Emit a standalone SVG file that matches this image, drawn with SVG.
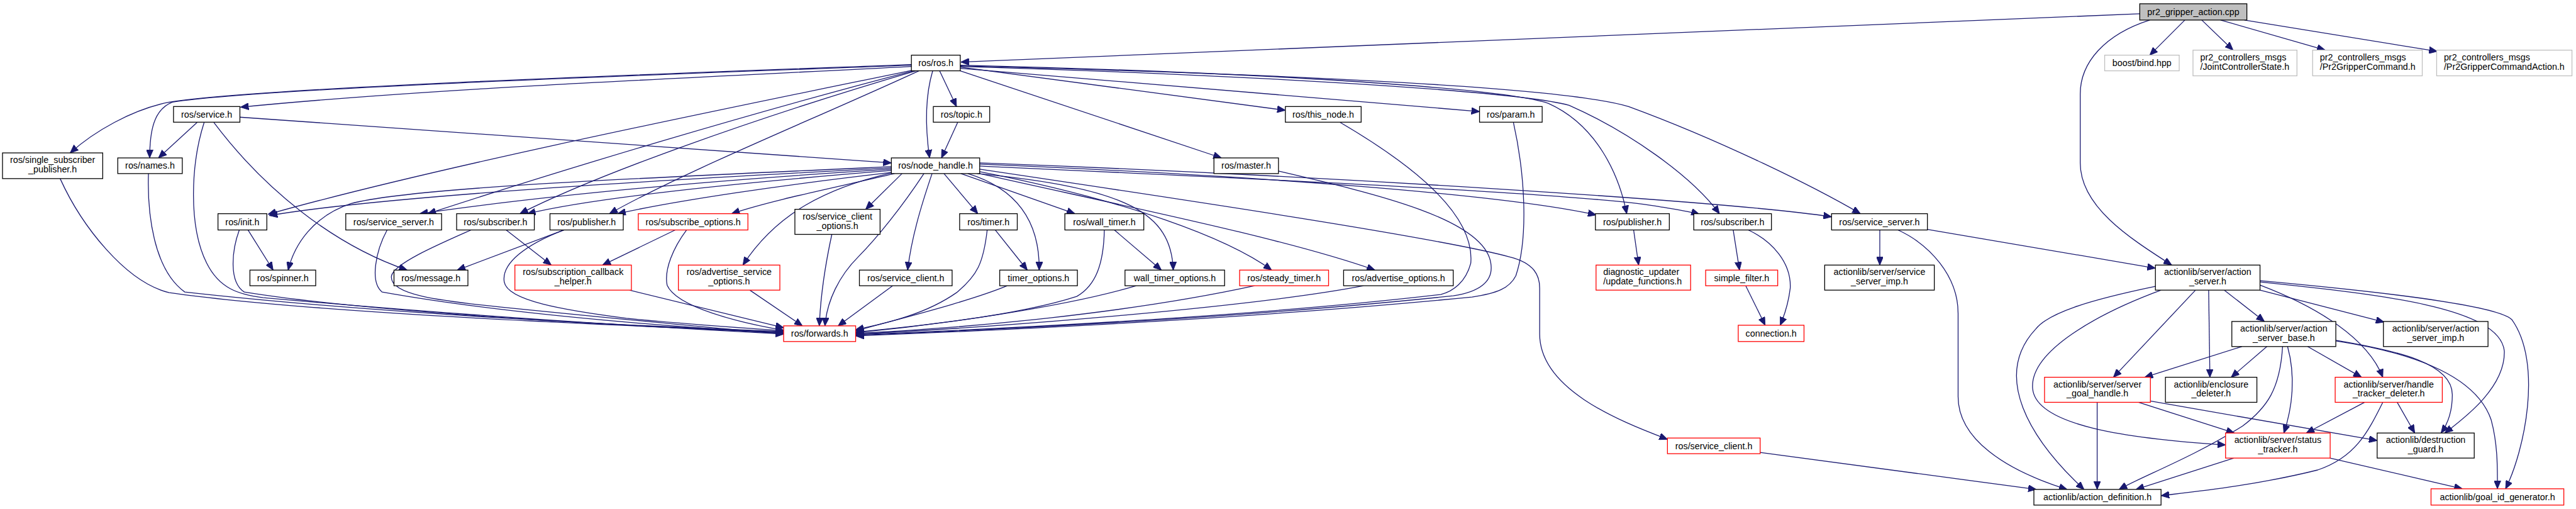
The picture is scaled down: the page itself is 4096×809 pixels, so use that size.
<svg xmlns="http://www.w3.org/2000/svg" width="4096" height="809" viewBox="0 0 4096 809">
<style>
.n rect{fill:#fff;stroke:#000;stroke-width:1.3}
.n.r rect{stroke:#f00}
.n.g rect{stroke:#bfbfbf}
.n.root rect{fill:#bfbfbf}
text{font-family:"Liberation Sans",Arial,Helvetica,sans-serif;font-size:14.4px;text-anchor:middle;fill:#000}
text.l{text-anchor:start}
#edges path{fill:none;stroke:#191970;stroke-width:1.3;marker-end:url(#a)}
</style>
<defs>
<marker id="a" viewBox="0 0 13 11" refX="13" refY="5.5" markerWidth="13" markerHeight="11" orient="auto" markerUnits="userSpaceOnUse">
<path d="M0,0 L13,5.5 L0,11 z" fill="#191970" stroke="#191970" stroke-width="1"/>
</marker>
</defs>
<rect width="4096" height="809" fill="#fff"/>
<g transform="scale(0.996)">
<g id="edges">
<!-- root -->
<path d="M3416,22 L1534,99"/>
<path d="M3488,32 L3432,88"/>
<path d="M3515,32 L3565,80"/>
<path d="M3545,32 L3712,80"/>
<path d="M3583,32 L3891,82"/>
<path d="M3432,32 C3360,55 3321,100 3321,150 L3321,260 C3321,330 3400,380 3467,423"/>
<!-- ros.h -->
<path d="M1455,103 C1000,120 420,140 270,163 C210,175 150,210 112,244"/>
<path d="M1455,104 C1000,121 420,141 275,163 C245,175 239,210 239,252"/>
<path d="M1455,106 C1100,125 700,140 384,171"/>
<path d="M1489,113 C1475,160 1478,210 1484,252"/>
<path d="M1500,113 L1527,170"/>
<path d="M1457,112 C1200,165 700,265 428,342"/>
<path d="M1458,113 C1200,180 900,270 683,341"/>
<path d="M1462,113 C1200,190 950,280 830,341"/>
<path d="M1467,113 C1300,190 1100,270 973,341"/>
<path d="M1533,113 L1950,252"/>
<path d="M1533,107 L2052,176"/>
<path d="M1533,109 L2362,178"/>
<path d="M1533,104 C2000,115 2400,140 2472,165 C2550,200 2585,280 2597,341"/>
<path d="M1533,106 C2000,120 2420,145 2505,168 C2600,210 2700,280 2745,341"/>
<path d="M1533,105 C2100,120 2500,140 2600,170 C2750,225 2900,300 2970,341"/>
<!-- topic -->
<path d="M1529,195 L1503,252"/>
<!-- service.h -->
<path d="M315,195 L253,252"/>
<path d="M383,187 L1423,260"/>
<path d="M326,195 C305,260 300,360 330,420 C350,460 380,470 420,475 C700,500 1000,520 1251,533"/>
<path d="M341,195 C420,300 530,390 650,431"/>
<!-- node_handle -->
<path d="M1423,266 C1000,285 650,300 560,325 C500,345 470,390 460,431"/>
<path d="M1423,268 C1000,290 600,315 430,344"/>
<path d="M1423,270 C1100,290 850,315 670,341"/>
<path d="M1423,272 C1200,290 950,315 842,341"/>
<path d="M1425,275 C1250,295 1080,320 986,341"/>
<path d="M1428,277 C1330,300 1230,320 1168,341"/>
<path d="M1440,277 L1382,334"/>
<path d="M1423,276 C1320,300 1240,340 1186,423"/>
<path d="M1475,277 C1440,330 1400,380 1370,410 C1340,440 1320,480 1317,520"/>
<path d="M1488,277 C1470,330 1455,380 1449,431"/>
<path d="M1507,277 L1561,341"/>
<path d="M1545,277 C1620,300 1660,350 1659,431"/>
<path d="M1534,277 L1716,341"/>
<path d="M1560,277 C1800,300 1870,340 1873,431"/>
<path d="M1564,274 C1800,320 1960,380 2030,431"/>
<path d="M1564,277 C1800,330 2050,380 2195,431"/>
<path d="M1564,262 C2000,280 2400,310 2548,343"/>
<path d="M1564,265 C2000,285 2550,310 2650,330 C2680,335 2700,338 2713,342"/>
<path d="M1564,260 C2100,280 2750,320 2924,346"/>
<path d="M1564,270 C1900,320 2300,380 2410,410 C2450,420 2458,440 2458,460 L2458,533 C2458,620 2580,670 2662,701"/>
<!-- into forwards from left -->
<path d="M96,285 C130,360 200,450 270,467 C500,500 1000,520 1251,530"/>
<path d="M237,277 C235,340 245,430 295,466 C600,500 1000,520 1251,529"/>
<path d="M382,367 C370,400 365,450 390,466 C600,500 1000,520 1251,531"/>
<path d="M396,367 L436,431"/>
<path d="M618,367 C600,400 590,450 610,466 C800,500 1050,520 1251,532"/>
<path d="M752,367 C700,390 630,420 625,440 C620,470 700,480 800,490 C1000,510 1150,525 1251,533"/>
<path d="M808,367 L880,423"/>
<path d="M900,367 L730,431"/>
<path d="M900,367 C840,390 800,420 805,450 C810,480 900,495 1000,508 C1100,518 1200,524 1251,528"/>
<path d="M1078,367 L962,423"/>
<path d="M1096,367 C1075,395 1060,430 1065,455 C1080,490 1180,515 1251,527"/>
<path d="M1005,463 L1251,523"/>
<path d="M1197,463 L1281,520"/>
<path d="M1328,374 C1318,420 1310,470 1308,520"/>
<!-- into forwards from right -->
<path d="M1425,456 L1338,520"/>
<path d="M1589,367 L1640,431"/>
<path d="M1576,367 C1570,420 1560,440 1527,467 C1480,500 1420,515 1366,526"/>
<path d="M1608,456 C1550,480 1450,505 1366,528"/>
<path d="M1779,367 L1854,431"/>
<path d="M1763,367 C1762,420 1750,455 1719,473 C1620,505 1450,522 1366,530"/>
<path d="M1814,456 C1700,490 1500,518 1366,531"/>
<path d="M2003,456 C1800,500 1550,523 1366,532"/>
<path d="M2177,456 C2000,490 1600,522 1366,533"/>
<path d="M2139,195 C2250,260 2355,340 2348,420 C2340,450 2320,465 2300,470 C2000,505 1600,525 1366,534"/>
<path d="M2041,273 C2200,310 2370,350 2380,420 C2385,450 2360,466 2320,472 C2000,506 1600,526 1366,535"/>
<path d="M2416,195 C2435,280 2440,380 2420,440 C2410,460 2390,468 2350,474 C2000,508 1600,527 1366,536"/>
<!-- right-hand roscpp look-alikes -->
<path d="M2608,367 L2616,423"/>
<path d="M2767,367 L2777,431"/>
<path d="M2791,367 C2830,385 2860,420 2858,460 C2855,485 2848,505 2842,519"/>
<path d="M2787,456 L2818,519"/>
<path d="M3001,367 L3001,423"/>
<path d="M3030,367 C3080,390 3126,440 3126,500 L3126,633 C3126,700 3200,750 3300,781"/>
<path d="M3077,366 L3441,428"/>
<path d="M2810,722 L3251,781"/>
<!-- action_server -->
<path d="M3551,463 L3615,513"/>
<path d="M3608,463 L3806,514"/>
<path d="M3526,463 L3528,602"/>
<path d="M3505,463 L3374,602"/>
<path d="M3608,455 C3700,490 3780,540 3804,602"/>
<path d="M3608,450 C3800,470 3990,490 3998,560 C4000,620 3930,670 3903,691"/>
<path d="M3608,448 C3850,470 3990,490 4010,510 C4060,580 4030,720 4000,780"/>
<path d="M3450,463 C3350,500 3240,560 3245,620 C3250,680 3400,700 3553,710"/>
<path d="M3441,457 C3330,480 3270,500 3250,525 C3180,600 3240,700 3327,781"/>
<!-- action_server_base -->
<path d="M3579,553 L3424,602"/>
<path d="M3619,553 L3562,602"/>
<path d="M3684,553 L3770,602"/>
<path d="M3652,553 C3665,600 3660,650 3646,691"/>
<path d="M3644,553 C3640,620 3620,650 3580,680 C3500,730 3420,760 3383,781"/>
<path d="M3729,543 C3830,560 3915,580 3915,630 C3915,660 3905,680 3897,691"/>
<path d="M3729,544 C3900,570 3960,620 3977,670 C3988,710 3987,750 3987,780"/>
<!-- server_goal_handle -->
<path d="M3348,642 L3348,781"/>
<path d="M3414,642 L3567,691"/>
<path d="M3433,640 L3795,703"/>
<!-- handle_tracker_deleter -->
<path d="M3775,642 L3682,691"/>
<path d="M3827,642 L3855,691"/>
<path d="M3804,642 C3780,690 3760,730 3700,750 C3600,775 3500,785 3450,791"/>
<!-- status_tracker -->
<path d="M3566,731 L3410,781"/>
<path d="M3720,731 L3931,780"/>
</g>

<g id="n_root" class="n root"><rect x="3416" y="6" width="171" height="26"/><text x="3501.5" y="24">pr2_gripper_action.cpp</text></g>
<g id="n_ros" class="n"><rect x="1455" y="88" width="78" height="25"/><text x="1494" y="105.5">ros/ros.h</text></g>
<g id="n_bind" class="n g"><rect x="3360" y="88" width="119" height="25"/><text x="3419.5" y="105.5">boost/bind.hpp</text></g>
<g id="n_jcs" class="n g"><rect x="3501" y="80" width="166" height="41"/><text class="l" x="3512.5" y="96">pr2_controllers_msgs</text><text class="l" x="3512.5" y="111">/JointControllerState.h</text></g>
<g id="n_p2gc" class="n g"><rect x="3692" y="80" width="175" height="41"/><text class="l" x="3703.5" y="96">pr2_controllers_msgs</text><text class="l" x="3703.5" y="111">/Pr2GripperCommand.h</text></g>
<g id="n_p2gca" class="n g"><rect x="3890" y="80" width="216" height="41"/><text class="l" x="3901.5" y="96">pr2_controllers_msgs</text><text class="l" x="3901.5" y="111">/Pr2GripperCommandAction.h</text></g>
<g id="n_service" class="n"><rect x="277" y="170" width="106" height="25"/><text x="330" y="187.5">ros/service.h</text></g>
<g id="n_topic" class="n"><rect x="1490" y="170" width="90" height="25"/><text x="1535" y="187.5">ros/topic.h</text></g>
<g id="n_this_node" class="n"><rect x="2052" y="170" width="121" height="25"/><text x="2112.5" y="187.5">ros/this_node.h</text></g>
<g id="n_param" class="n"><rect x="2362" y="170" width="100" height="25"/><text x="2412" y="187.5">ros/param.h</text></g>
<g id="n_ssp" class="n"><rect x="4" y="244" width="160" height="41"/><text x="84" y="260">ros/single_subscriber</text><text x="84" y="275">_publisher.h</text></g>
<g id="n_names" class="n"><rect x="188" y="252" width="103" height="25"/><text x="239.5" y="269.5">ros/names.h</text></g>
<g id="n_node_handle" class="n"><rect x="1423" y="252" width="141" height="25"/><text x="1493.5" y="269.5">ros/node_handle.h</text></g>
<g id="n_master" class="n"><rect x="1938" y="252" width="103" height="25"/><text x="1989.5" y="269.5">ros/master.h</text></g>
<g id="n_init" class="n"><rect x="348" y="341" width="78" height="26"/><text x="387" y="359">ros/init.h</text></g>
<g id="n_ssrv_l" class="n"><rect x="552" y="341" width="153" height="26"/><text x="628.5" y="359">ros/service_server.h</text></g>
<g id="n_sub_l" class="n"><rect x="729" y="341" width="124" height="26"/><text x="791" y="359">ros/subscriber.h</text></g>
<g id="n_pub_l" class="n"><rect x="878" y="341" width="117" height="26"/><text x="936.5" y="359">ros/publisher.h</text></g>
<g id="n_subopt" class="n r"><rect x="1019" y="341" width="175" height="26"/><text x="1106.5" y="359">ros/subscribe_options.h</text></g>
<g id="n_sco" class="n"><rect x="1269" y="334" width="136" height="40"/><text x="1337" y="350">ros/service_client</text><text x="1337" y="365">_options.h</text></g>
<g id="n_timer" class="n"><rect x="1532" y="341" width="92" height="26"/><text x="1578" y="359">ros/timer.h</text></g>
<g id="n_wall_timer" class="n"><rect x="1700" y="341" width="126" height="26"/><text x="1763" y="359">ros/wall_timer.h</text></g>
<g id="n_pub_r" class="n"><rect x="2547" y="341" width="118" height="26"/><text x="2606" y="359">ros/publisher.h</text></g>
<g id="n_sub_r" class="n"><rect x="2704" y="341" width="124" height="26"/><text x="2766" y="359">ros/subscriber.h</text></g>
<g id="n_ssrv_r" class="n"><rect x="2924" y="341" width="153" height="26"/><text x="3000.5" y="359">ros/service_server.h</text></g>
<g id="n_action_server" class="n"><rect x="3441" y="423" width="167" height="40"/><text x="3524.5" y="439">actionlib/server/action</text><text x="3524.5" y="454">_server.h</text></g>
<g id="n_spinner" class="n"><rect x="399" y="431" width="105" height="25"/><text x="451.5" y="448.5">ros/spinner.h</text></g>
<g id="n_message" class="n"><rect x="629" y="431" width="118" height="25"/><text x="688" y="448.5">ros/message.h</text></g>
<g id="n_scbh" class="n r"><rect x="822" y="423" width="186" height="40"/><text x="915" y="439">ros/subscription_callback</text><text x="915" y="454">_helper.h</text></g>
<g id="n_aso" class="n r"><rect x="1083" y="423" width="162" height="40"/><text x="1164" y="439">ros/advertise_service</text><text x="1164" y="454">_options.h</text></g>
<g id="n_sclient_l" class="n"><rect x="1372" y="431" width="148" height="25"/><text x="1446" y="448.5">ros/service_client.h</text></g>
<g id="n_timer_opt" class="n"><rect x="1596" y="431" width="124" height="25"/><text x="1658" y="448.5">timer_options.h</text></g>
<g id="n_wt_opt" class="n"><rect x="1796" y="431" width="159" height="25"/><text x="1875.5" y="448.5">wall_timer_options.h</text></g>
<g id="n_steady" class="n r"><rect x="1979" y="431" width="142" height="25"/><text x="2050" y="448.5">ros/steady_timer.h</text></g>
<g id="n_adv_opt" class="n"><rect x="2145" y="431" width="175" height="25"/><text x="2232.5" y="448.5">ros/advertise_options.h</text></g>
<g id="n_diag" class="n r"><rect x="2548" y="423" width="151" height="40"/><text class="l" x="2559.5" y="439">diagnostic_updater</text><text class="l" x="2559.5" y="454">/update_functions.h</text></g>
<g id="n_simple_filter" class="n r"><rect x="2723" y="431" width="115" height="25"/><text x="2780.5" y="448.5">simple_filter.h</text></g>
<g id="n_ssi" class="n"><rect x="2913" y="423" width="175" height="40"/><text x="3000.5" y="439">actionlib/server/service</text><text x="3000.5" y="454">_server_imp.h</text></g>
<g id="n_forwards" class="n r"><rect x="1251" y="520" width="115" height="25"/><text x="1308.5" y="537.5">ros/forwards.h</text></g>
<g id="n_connection" class="n r"><rect x="2775" y="519" width="105" height="26"/><text x="2827.5" y="537">connection.h</text></g>
<g id="n_asb" class="n"><rect x="3563" y="513" width="166" height="40"/><text x="3646" y="529">actionlib/server/action</text><text x="3646" y="544">_server_base.h</text></g>
<g id="n_asi" class="n"><rect x="3805" y="513" width="167" height="40"/><text x="3888.5" y="529">actionlib/server/action</text><text x="3888.5" y="544">_server_imp.h</text></g>
<g id="n_sgh" class="n r"><rect x="3264" y="602" width="169" height="40"/><text x="3348.5" y="618">actionlib/server/server</text><text x="3348.5" y="633">_goal_handle.h</text></g>
<g id="n_encl" class="n"><rect x="3457" y="602" width="146" height="40"/><text x="3530" y="618">actionlib/enclosure</text><text x="3530" y="633">_deleter.h</text></g>
<g id="n_htd" class="n r"><rect x="3728" y="602" width="171" height="40"/><text x="3813.5" y="618">actionlib/server/handle</text><text x="3813.5" y="633">_tracker_deleter.h</text></g>
<g id="n_sclient_r" class="n r"><rect x="2662" y="699" width="148" height="25"/><text x="2736" y="716.5">ros/service_client.h</text></g>
<g id="n_st" class="n r"><rect x="3553" y="691" width="167" height="40"/><text x="3636.5" y="707">actionlib/server/status</text><text x="3636.5" y="722">_tracker.h</text></g>
<g id="n_dg" class="n"><rect x="3795" y="691" width="155" height="40"/><text x="3872.5" y="707">actionlib/destruction</text><text x="3872.5" y="722">_guard.h</text></g>
<g id="n_ad" class="n"><rect x="3247" y="781" width="203" height="25"/><text x="3348.5" y="798.5">actionlib/action_definition.h</text></g>
<g id="n_gig" class="n r"><rect x="3881" y="780" width="212" height="26"/><text x="3987" y="798">actionlib/goal_id_generator.h</text></g>
</g>
</svg>
